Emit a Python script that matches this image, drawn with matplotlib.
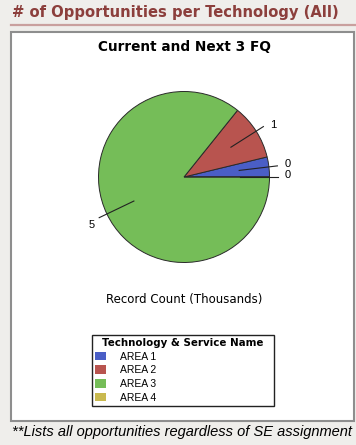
import matplotlib
matplotlib.use('Agg')
import matplotlib.pyplot as plt
import matplotlib.patches as mpatches
import numpy as np

# ==[0] Data: record counts in thousands
areas = ['AREA 1', 'AREA 2', 'AREA 3', 'AREA 4']
counts = [0.22, 0.61, 5.0, 0.0]
colors = ['#4a5ec6', '#b8544f', '#75bd58', '#c9b94f']

W, H = 356, 445


def fx(px):
    return px / W


def fy(py):
    return 1 - py / H


fig = plt.figure(figsize=(W / 100, H / 100), dpi=100)
fig.patch.set_facecolor('#efeeeb')

# ==[1] Header and panel frame
fig.text(fx(12), fy(12), '# of Opportunities per Technology (All)', fontsize=10.6,
         fontweight='bold', color='#8c3f3c', va='center', ha='left')
fig.add_artist(plt.Line2D([fx(11), 1], [fy(25), fy(25)], color='#c9a09e', lw=1.6))
fig.add_artist(mpatches.Rectangle((fx(11), fy(421)), fx(343), 389 / H, facecolor='white',
                                  edgecolor='#8e8e8e', lw=1.5, zorder=0))
fig.text(fx(184), fy(47), 'Current and Next 3 FQ', fontsize=9.8, fontweight='bold',
         ha='center', va='center')

# ==[2] Pie
R = 85.5
half = 110
ax = fig.add_axes([fx(184 - half), fy(177 + half), 2 * half / W, 2 * half / H])
ax.axis('off')

wedges, _ = ax.pie(counts, colors=colors, startangle=0, counterclock=True, radius=1,
                   wedgeprops=dict(edgecolor='#2a2a2a', linewidth=0.7))
# pie() resets the limits, so set them afterwards
lim = half / R
ax.set_xlim(-lim, lim)
ax.set_ylim(-lim, lim)
ax.set_aspect('equal')

# leader lines and value labels
total = sum(counts)
start = 0.0
for val in counts:
    span = 360.0 * val / total
    mid = np.deg2rad(start + span / 2)
    c, s = np.cos(mid), np.sin(mid)
    ax.plot([0.65 * c, 1.1 * c], [0.65 * s, 1.1 * s], color='#222222', lw=0.8)
    ha = 'left' if c >= 0 else 'right'
    ax.text(1.1 * c + (0.08 if c >= 0 else -0.05), 1.1 * s + (0.02 if c >= 0 else -0.08),
            f'{val:.0f}', fontsize=8, ha=ha, va='center', family='Liberation Sans')
    start += span

fig.text(fx(184), fy(300), 'Record Count (Thousands)', fontsize=8.5, ha='center', va='center')

# ==[3] Legend
leg = fig.legend(wedges, areas, title='Technology & Service Name', loc='lower left',
                 bbox_to_anchor=(fx(87), fy(411), 192 / W, 84 / H), mode='expand',
                 handlelength=1.0, handleheight=0.9, handletextpad=1.4,
                 labelspacing=0.35, borderpad=0.3, fancybox=False, framealpha=1,
                 prop={'family': 'Liberation Sans', 'size': 7.5})
leg.get_frame().set_edgecolor('#222222')
leg.get_frame().set_linewidth(1.0)
leg.get_title().set_fontweight('bold')
leg.get_title().set_fontsize(7.4)
for h in leg.legend_handles:
    h.set_edgecolor('none')

# ==[4] Footnote
fig.text(fx(12), fy(432), '**Lists all opportunities regardless of SE assignment',
         fontsize=10.5, style='italic', family='Liberation Sans', ha='left', va='center')

fig.savefig('out.png', dpi=100, facecolor=fig.get_facecolor())
